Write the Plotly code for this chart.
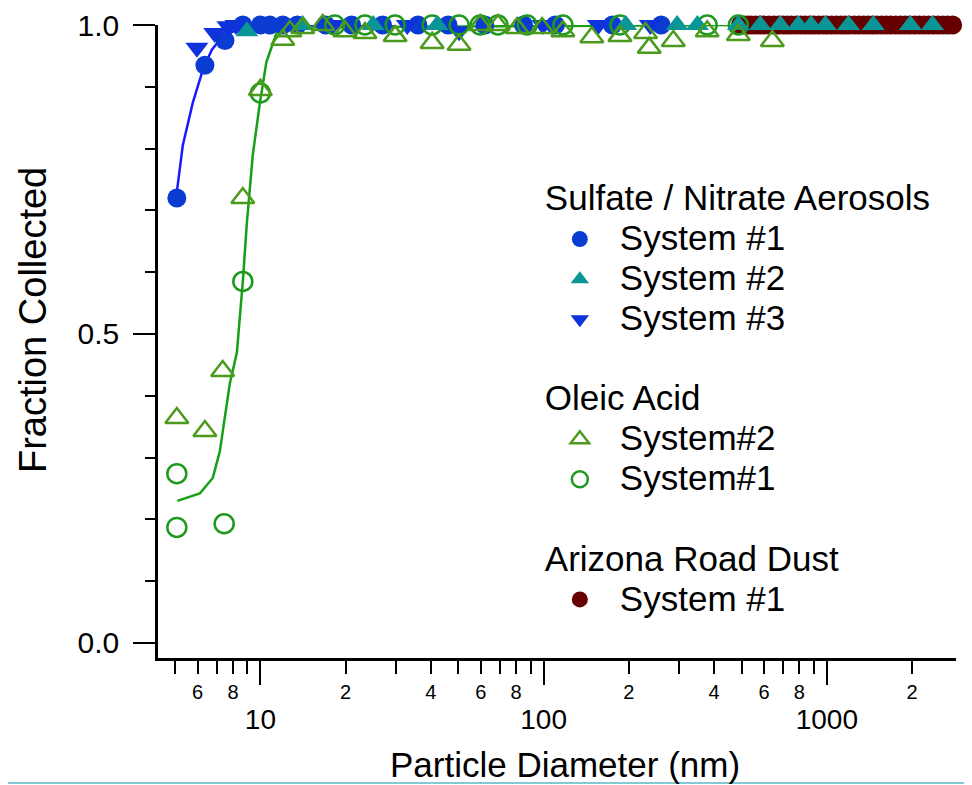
import plotly.graph_objects as go

# ---------------- data ----------------
sulf1_x = [5.07, 6.37, 7.5, 8.67, 10.0, 10.8, 12.0, 13.5, 17.0, 21.0, 27.0, 36.0, 46.0, 62.0, 85.0, 110.0, 175.0, 260.0]
sulf1_y = [0.72, 0.935, 0.975, 1.0, 1.0, 1.0, 1.0, 1.0, 1.0, 1.0, 1.0, 1.0, 1.0, 1.0, 1.0, 1.0, 1.0, 1.0]

sulf2_x = [8.96, 14.1, 25.0, 42.1, 195, 296, 349, 487, 582, 685, 793, 880, 988, 1192, 1459, 1972, 2360]
sulf2_y = [0.99, 1.0, 1.0, 1.0, 1.0, 1.0, 1.0, 1.0, 1.0, 1.0, 1.0, 1.0, 1.0, 1.0, 1.0, 1.0, 1.0]

sulf3_x = [5.97, 6.9, 7.68, 8.2, 18.0, 33.0, 50.3, 99.5, 156, 238]
sulf3_y = [0.963, 0.987, 0.998, 1.0, 1.0, 1.0, 0.99, 1.0, 1.0, 1.0]

oleic2_x = [5.07, 6.37, 7.36, 8.67, 10.0, 12.0, 12.7, 14.1, 16.6, 19.9, 23.4, 29.9, 40.4, 50.3,
            59.7, 69.0, 80.6, 98.8, 117, 148, 186, 229, 236, 287, 378, 487, 642]
oleic2_y = [0.364, 0.343, 0.44, 0.72, 0.895, 0.976, 0.99, 0.995, 1.0, 0.99, 0.987, 0.982, 0.971, 0.968,
            1.0, 1.0, 0.995, 0.995, 0.99, 0.98, 0.982, 0.987, 0.963, 0.974, 0.99, 0.984, 0.974]

oleic1_x = [5.07, 5.07, 7.45, 8.67, 10.0, 18.3, 23.4, 29.9, 40.4, 50.3, 59.7, 69.0, 87.5, 117, 186, 378, 487]
oleic1_y = [0.274, 0.187, 0.193, 0.585, 0.89, 1.0, 1.0, 1.0, 1.0, 1.0, 1.0, 1.0, 1.0, 1.0, 1.0, 1.0, 1.0]

dust_x = [495, 510, 525, 540, 560, 580, 600, 625, 650, 675, 700, 725, 750, 780, 810, 840, 870, 900, 935,
          970, 1000, 1040, 1080, 1120, 1160, 1200, 1250, 1300, 1350, 1400, 1450, 1500, 1560, 1620,
          1680, 1750, 1820, 1890, 1960, 2040, 2120, 2200, 2290, 2380, 2470, 2570, 2670, 2780, 2880]
dust_y = [1.0] * len(dust_x)

blue_fit_x = [5.07, 5.32, 5.77, 6.27, 6.74, 7.37, 8.26, 9.18, 12.0, 30.0]
blue_fit_y = [0.73, 0.805, 0.874, 0.928, 0.96, 0.982, 0.992, 0.998, 1.0, 1.0]

green_fit_x = [5.09, 6.11, 6.79, 7.19, 7.80, 8.26, 8.67, 8.96, 9.40, 9.96, 10.5, 11.4, 12.0, 478]
green_fit_y = [0.23, 0.242, 0.267, 0.31, 0.42, 0.47, 0.585, 0.68, 0.79, 0.874, 0.94, 0.987, 0.996, 1.0]

major_ticks = [10, 100, 1000]
major_labels = ["10", "100", "1000"]
minor_ticks = [5, 6, 7, 8, 9, 20, 30, 40, 50, 60, 70, 80, 90,
               200, 300, 400, 500, 600, 700, 800, 900, 2000]
minor_label_vals = [6, 8, 20, 40, 60, 80, 200, 400, 600, 800, 2000]
minor_label_text = ["6", "8", "2", "4", "6", "8", "2", "4", "6", "8", "2"]
y_ticks = [0.0, 0.5, 1.0]
y_labels = ["0.0", "0.5", "1.0"]
y_minor = [0.1, 0.2, 0.3, 0.4, 0.6, 0.7, 0.8, 0.9]

x_title = "Particle Diameter (nm)"
y_title = "Fraction Collected"

FONT = "Liberation Sans, Arial, Helvetica, sans-serif"
LEG = 35  # displayed legend text size


def lbl(t):
    return f"<span style='font-size:{LEG}px'>{t}</span>"


GT_FONT = dict(size=28.5, family=FONT, color="black")

fig = go.Figure()

# fit curves
fig.add_trace(go.Scatter(x=blue_fit_x, y=blue_fit_y, mode="lines",
                         line=dict(color="#1a1aff", width=2.5), showlegend=False,
                         hoverinfo="skip", cliponaxis=False))
fig.add_trace(go.Scatter(x=green_fit_x, y=green_fit_y, mode="lines",
                         line=dict(color="#16a016", width=2.5), showlegend=False,
                         hoverinfo="skip", cliponaxis=False))

# Arizona road dust
fig.add_trace(go.Scatter(x=dust_x, y=dust_y, mode="markers", name=lbl("System #1"),
                         marker=dict(symbol="circle", size=19, color="#660000",
                                     line=dict(width=0)),
                         legendgroup="dust", legendrank=6, cliponaxis=False,
                         legendgrouptitle=dict(text=lbl("Arizona Road Dust"), font=GT_FONT)))
# Sulfate / nitrate
fig.add_trace(go.Scatter(x=sulf1_x, y=sulf1_y, mode="markers", name=lbl("System #1"),
                         marker=dict(symbol="circle", size=19, color="#0b3cd2",
                                     line=dict(width=0)),
                         legendgroup="sulf", legendrank=1, cliponaxis=False,
                         legendgrouptitle=dict(text=lbl("Sulfate / Nitrate Aerosols"), font=GT_FONT)))
fig.add_trace(go.Scatter(x=sulf3_x, y=sulf3_y, mode="markers", name=lbl("System #3"),
                         marker=dict(symbol="triangle-down", size=20, color="#0f33da",
                                     line=dict(width=0)),
                         legendgroup="sulf", legendrank=3, cliponaxis=False))
fig.add_trace(go.Scatter(x=oleic1_x, y=oleic1_y, mode="markers", name=lbl("System#1"),
                         marker=dict(symbol="circle-open", size=19, color="#1d9a1d",
                                     line=dict(width=2.5)),
                         legendgroup="oleic", legendrank=5, cliponaxis=False))
fig.add_trace(go.Scatter(x=sulf2_x, y=sulf2_y, mode="markers", name=lbl("System #2"),
                         marker=dict(symbol="triangle-up", size=20, color="#0a9696",
                                     line=dict(width=0)),
                         legendgroup="sulf", legendrank=2, cliponaxis=False))
fig.add_trace(go.Scatter(x=oleic2_x, y=oleic2_y, mode="markers", name=lbl("System#2"),
                         marker=dict(symbol="triangle-up-open", size=20, color="#4c9a1c",
                                     line=dict(width=2.5)),
                         legendgroup="oleic", legendrank=4, cliponaxis=False,
                         legendgrouptitle=dict(text=lbl("Oleic Acid"), font=GT_FONT)))

# empty trace so the secondary (label-only) x axis is drawn
fig.add_trace(go.Scatter(x=[], y=[], xaxis="x2", yaxis="y", showlegend=False, hoverinfo="skip"))

xrange = [0.6385, 3.456]

fig.update_layout(
    width=964, height=777,
    margin=dict(l=150, r=16, t=17, b=127, autoexpand=False),
    paper_bgcolor="white", plot_bgcolor="white",
    font=dict(family=FONT, color="black"),
    showlegend=True,
    legend=dict(x=0.4785, y=0.7646, xanchor="left", yanchor="top",
                font=dict(size=28.5, family=FONT, color="black"),
                bgcolor="rgba(0,0,0,0)", tracegroupgap=40,
                itemsizing="trace", itemwidth=70, traceorder="grouped"),
    xaxis=dict(type="log", range=xrange, showgrid=False, zeroline=False, automargin=False,
               showline=True, linecolor="black", linewidth=2.5,
               ticks="outside", ticklen=24, tickwidth=2, tickcolor="black",
               tickvals=major_ticks, ticktext=major_labels, ticklabeloverflow="allow",
               tickfont=dict(size=28, family=FONT), ticklabelstandoff=11,
               minor=dict(tickvals=minor_ticks, ticks="outside", ticklen=13,
                          tickwidth=2, tickcolor="black", showgrid=False)),
    xaxis2=dict(type="log", range=xrange, overlaying="x", anchor="y", side="bottom",
                showgrid=False, zeroline=False, showline=False, ticks="", automargin=False,
                tickvals=minor_label_vals, ticktext=minor_label_text, ticklabeloverflow="allow",
                tickfont=dict(size=20, family=FONT), ticklabelstandoff=20),
    yaxis=dict(range=[-0.0243, 1.0], showgrid=False, zeroline=False, automargin=False,
               showline=True, linecolor="black", linewidth=2.5,
               ticks="outside", ticklen=22, tickwidth=2, tickcolor="black",
               tickvals=y_ticks, ticktext=y_labels, ticklabeloverflow="allow",
               tickfont=dict(size=30, family=FONT), ticklabelstandoff=8,
               minor=dict(tickvals=y_minor, ticks="outside", ticklen=10,
                          tickwidth=2, tickcolor="black", showgrid=False)),
    annotations=[
        dict(text=x_title, xref="paper", yref="paper", x=0.51, y=-0.169,
             xanchor="center", yanchor="middle", showarrow=False,
             font=dict(size=35, family=FONT, color="black")),
        dict(text=y_title, xref="paper", yref="paper", x=-0.1566, y=0.534,
             xanchor="center", yanchor="middle", textangle=-90, showarrow=False,
             font=dict(size=38, family=FONT, color="black")),
    ],
    shapes=[dict(type="line", xref="paper", yref="paper",
                 x0=-0.2, x1=1.03, y0=-0.1975, y1=-0.1975,
                 line=dict(color="#86c9d6", width=2))],
)

fig.write_html("out.html")
